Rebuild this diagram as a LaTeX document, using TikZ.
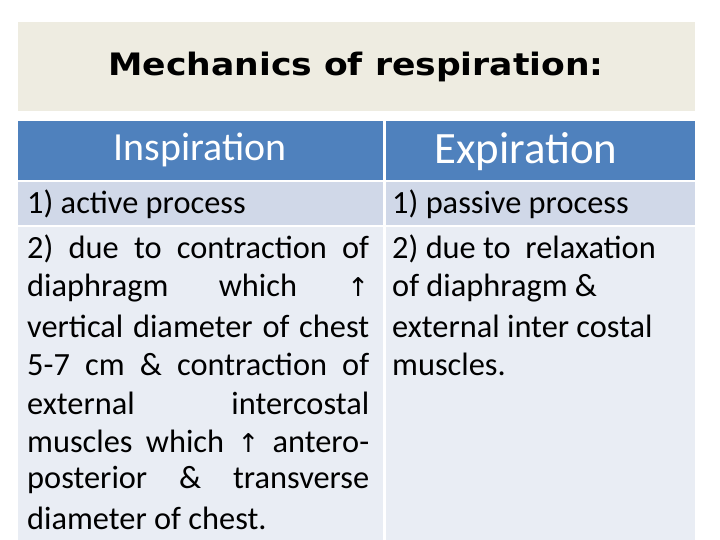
\documentclass[tikz,border=0pt]{standalone}
\usepackage{fontspec}
\setmainfont{Carlito}
\newfontfamily\titlefont{DejaVu Sans}
\definecolor{beig}{HTML}{EEECE1}
\definecolor{hblue}{HTML}{4F81BD}
\definecolor{rowa}{HTML}{D0D8E8}
\definecolor{rowb}{HTML}{E9EDF4}
\begin{document}
\begin{tikzpicture}[x=1bp,y=-1bp,
  cell/.style={inner sep=0pt},
  ln/.style={anchor=west,inner sep=0pt,font=\fontsize{32.5}{36}\selectfont}]
\useasboundingbox (0,0) rectangle (720,540);
\fill[white] (0,0) rectangle (720,540);
\fill[beig] (18,22) rectangle (695,111);
\node[cell,xscale=1.12,font=\titlefont\bfseries\fontsize{31}{36}\selectfont] (title) at (356,67) {Mechanics of respiration:};
\fill[hblue] (18,121) rectangle (383,180);
\fill[hblue] (386,121) rectangle (695,180);
\fill[rowa] (18,182) rectangle (383,225);
\fill[rowa] (386,182) rectangle (695,225);
\fill[rowb] (18,227) rectangle (383,540);
\fill[rowb] (386,227) rectangle (695,540);
\node[cell,text=white,font=\fontsize{40}{44}\selectfont] (hi) at (200,150) {Inspiration};
\node[cell,text=white,font=\fontsize{45}{50}\selectfont] (he) at (526,152) {Expiration};
\node[ln] (l1) at (27,204) {1) active process};
\node[ln] (l2) at (27,249) {\hbox to 342bp{2)\hfill due\hfill to\hfill contraction\hfill of}};
\node[ln] (l3) at (27,288) {\hbox to 342bp{diaphragm\hfill which\hfill {\titlefont\fontsize{26}{30}\selectfont↑}}};
\node[ln] (l4) at (27,326) {\hbox to 342bp{vertical\hfill diameter\hfill of\hfill chest}};
\node[ln] (l5) at (27,364) {\hbox to 342bp{5-7\hfill cm\hfill \&\hfill contraction\hfill of}};
\node[ln] (l6) at (27,403) {\hbox to 342bp{external\hfill intercostal}};
\node[ln] (l7) at (27,441) {\hbox to 342bp{muscles\hfill which\hfill {\titlefont\fontsize{26}{30}\selectfont↑}\hfill antero-}};
\node[ln] (l8) at (27,480) {\hbox to 342bp{posterior\hfill \&\hfill transverse}};
\node[ln] (l9) at (27,518) {diameter of chest.};
\node[ln] (r1) at (392,204) {1) passive process};
\node[ln] (r2) at (392,249) {2) due to\ \ relaxation};
\node[ln] (r3) at (392,288) {of diaphragm \&};
\node[ln] (r4) at (392,326) {external inter costal};
\node[ln] (r5) at (392,364) {muscles.};
\end{tikzpicture}
\end{document}
